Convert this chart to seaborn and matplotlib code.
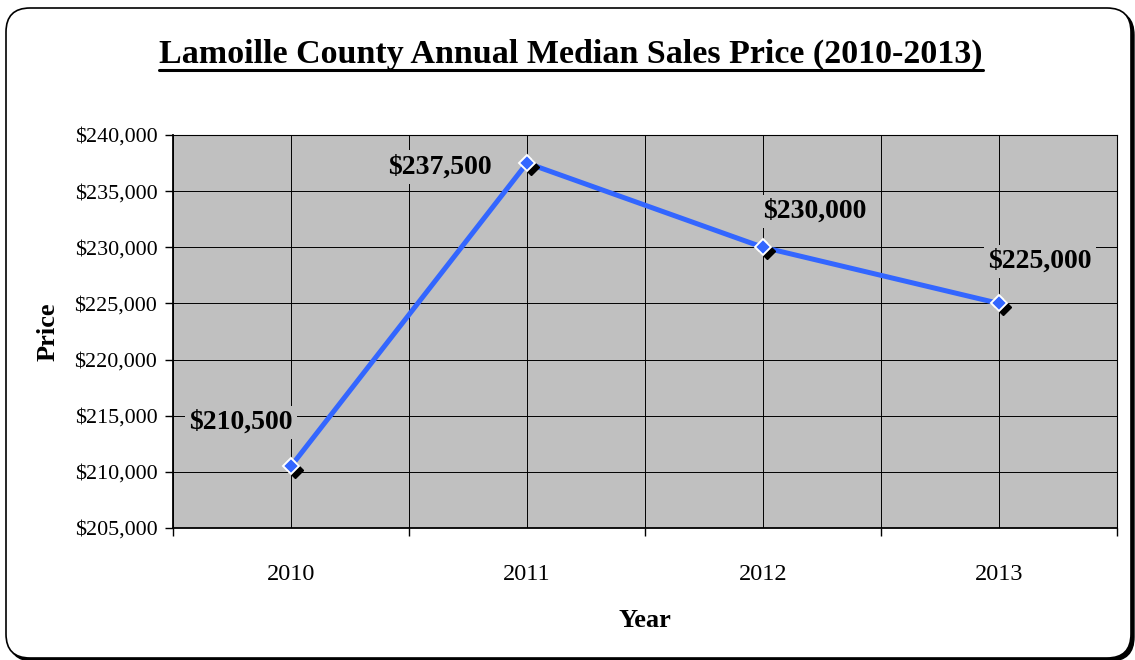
import numpy as np
import pandas as pd
import matplotlib
matplotlib.use("Agg")
import matplotlib.pyplot as plt
import matplotlib.transforms as mtransforms
from matplotlib.patches import FancyBboxPatch
from matplotlib.lines import Line2D
from matplotlib.ticker import FuncFormatter, FixedLocator
import seaborn as sns

# Annual median sales price, Lamoille County
years = ["2010", "2011", "2012", "2013"]
prices = [210500, 237500, 230000, 225000]
price_labels = ["$210,500", "$237,500", "$230,000", "$225,000"]
# offsets of each value label from its point (pixels, +x right, +y up)
label_dx = [-50, -87, 52, 41]
label_dy = [44, -4, 36, 42]

title = "Lamoille County Annual Median Sales Price (2010-2013)"

sns.set_theme(style="white")
plt.rcParams["font.family"] = ["Liberation Serif", "DejaVu Serif"]
plt.rcParams["text.color"] = "black"
plt.rcParams["axes.labelcolor"] = "black"
plt.rcParams["xtick.color"] = "black"
plt.rcParams["ytick.color"] = "black"

W, H, DPI = 1135, 660, 100
fig = plt.figure(figsize=(W / DPI, H / DPI), dpi=DPI)
fig.patch.set_facecolor("white")

# rounded chart frame with a drop shadow
ident = mtransforms.IdentityTransform()
fw, fh = 1125, 650
shadow = FancyBboxPatch((9, -1), fw, fh,
                        boxstyle="round,pad=0,rounding_size=24",
                        transform=ident, facecolor="black", edgecolor="black",
                        linewidth=1.0, zorder=0)
frame = FancyBboxPatch((6, 2), fw, fh,
                       boxstyle="round,pad=0,rounding_size=24",
                       transform=ident, facecolor="white", edgecolor="black",
                       linewidth=1.2, zorder=1)
fig.patches.extend([shadow, frame])

ax = fig.add_axes([173 / W, 1 - 528 / H, (1117 - 173) / W, (528 - 135) / H])
ax.set_zorder(2)
ax.set_facecolor("#C0C0C0")

df = pd.DataFrame({"pos": np.arange(len(years)), "price": prices})

line_color = "#3366FF"
sns.lineplot(data=df, x="pos", y="price", ax=ax, color=line_color,
             linewidth=3.6, zorder=3)

# marker shadows, shifted down-right
shift = mtransforms.ScaledTranslation(3.5 / DPI, -3.5 / DPI, fig.dpi_scale_trans)
ax.plot(df["pos"], df["price"], linestyle="none", marker="D", markersize=8.5,
        color="black", markeredgecolor="black", transform=ax.transData + shift,
        zorder=4)
ax.plot(df["pos"], df["price"], linestyle="none", marker="D", markersize=8.5,
        markerfacecolor=line_color, markeredgecolor="white",
        markeredgewidth=1.4, zorder=5)

ax.set_xlim(-0.5, len(years) - 0.5)
ax.set_ylim(205000, 240000)
ax.set_yticks(np.arange(205000, 240001, 5000))
ax.yaxis.set_major_formatter(FuncFormatter(lambda v, p: f"${v:,.0f}"))

ax.set_xticks(np.arange(len(years)))
ax.set_xticklabels(years)
ax.xaxis.set_minor_locator(FixedLocator(np.arange(-0.5, len(years), 1.0)))

ax.grid(True, which="both", axis="x", color="black", linewidth=0.7)
ax.grid(True, which="major", axis="y", color="black", linewidth=0.7)
ax.set_axisbelow(True)

ax.tick_params(axis="x", which="major", length=0, pad=26, labelsize=17.5,
               colors="black")
ax.tick_params(axis="x", which="minor", length=6, width=1, color="black",
               direction="out", bottom=True)
ax.tick_params(axis="y", which="major", length=5.8, width=1, color="black",
               direction="out", left=True, labelsize=15.8, pad=5.5,
               labelcolor="black")

for s in ax.spines.values():
    s.set_color("black")
    s.set_linewidth(0.8)
ax.spines["left"].set_linewidth(1.3)
ax.spines["bottom"].set_linewidth(1.3)

ax.set_xlabel("Year", fontsize=19, fontweight="bold", labelpad=17,
              color="black")
ax.set_ylabel("Price", fontsize=19, fontweight="bold", labelpad=11,
              color="black")

# value labels next to each point
for i, (p, lab) in enumerate(zip(prices, price_labels)):
    ax.annotate(lab, xy=(i, p), xytext=(label_dx[i] * 0.72, label_dy[i] * 0.72),
                textcoords="offset points", ha="center", va="center",
                fontsize=20, fontweight="bold", color="black", zorder=6,
                bbox=dict(boxstyle="square,pad=0.15", facecolor="#C0C0C0",
                          edgecolor="none"))

ttl = fig.text(571 / W, 1 - 54 / H, title, ha="center", va="center",
               fontsize=24.5, fontweight="bold", color="black", zorder=3)

# underline the title
fig.canvas.draw()
bb = ttl.get_window_extent(renderer=fig.canvas.get_renderer())
uy = 1 - 69.5 / H
fig.add_artist(Line2D([bb.x0 / W, bb.x1 / W], [uy, uy],
                      transform=fig.transFigure, color="black", linewidth=2.2,
                      zorder=3))

fig.savefig("out.png", dpi=DPI)
